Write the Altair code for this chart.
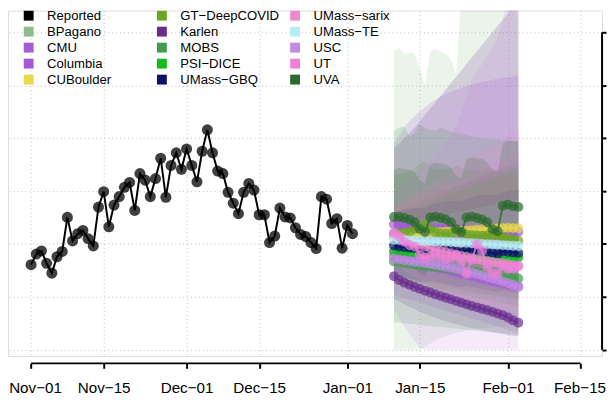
import altair as alt
import pandas as pd

# ---------------- data ----------------
tick_days = [0, 14, 30, 44, 61, 75, 92, 106]          # days after Nov-01
tick_labels = ["Nov−01", "Nov−15", "Dec−01", "Dec−15", "Jan−01", "Jan−15", "Feb−01", "Feb−15"]
y_ticks = [0, 500, 1000, 1500, 2000, 2500, 3000]

reported = [804, 904, 934, 817, 724, 879, 929, 1251, 1028, 1097, 1127, 1050, 981,
            1348, 1494, 1162, 1367, 1447, 1535, 1581, 1317, 1665, 1603, 1447, 1618,
            1810, 1441, 1742, 1861, 1705, 1898, 1742, 1587, 1876, 2078, 1861, 1689,
            1665, 1488, 1385, 1286, 1488, 1572, 1509, 1276, 1276, 1013, 1074, 1339,
            1255, 1246, 1153, 1090, 1069, 1013, 957, 1447, 1423, 1193, 1239, 960,
            1174, 1097]
forecast_start = 70   # first forecast day (Jan-10)

models = ["BPagano", "CMU", "Columbia", "CUBoulder", "GT−DeepCOVID", "Karlen", "MOBS",
          "PSI−DICE", "UMass−GBQ", "UMass−sarix", "UMass−TE", "USC", "UT", "UVA"]

colors = {
    "Reported": "#000000", "BPagano": "#8FBC8F", "CMU": "#A55AD7", "Columbia": "#A659D5",
    "CUBoulder": "#E6D94A", "GT−DeepCOVID": "#6BA523", "Karlen": "#6A2D8F", "MOBS": "#419D4F",
    "PSI−DICE": "#12BB1E", "UMass−GBQ": "#0C116C", "UMass−sarix": "#EE8ACB",
    "UMass−TE": "#B7EDF5", "USC": "#C18AE3", "UT": "#EE80D8", "UVA": "#2B6A2E",
}

legend_order = ["Reported"] + models   # legend fills column by column

median = {
    "BPagano": [930, 935, 925, 920, 915, 905, 900, 920, 925, 915, 910, 905, 895, 890, 905, 910, 900, 895, 890, 880, 875, 890, 895, 885, 880],
    "CMU": [1185, 1175, 1170, 1165, 1160, 1155, 1150, 1150, 1148, 1145, 1142, 1140, 1138, 1136, 1134, 1132, 1130, 1128, 1126, 1125, 1123, 1121, 1120, 1118, 1116],
    "Columbia": [885, 870, 858, 846, 834, 822, 810, 797, 784, 771, 758, 745, 732, 720, 708, 696, 684, 672, 660, 649, 638, 627, 616, 606, 598],
    "CUBoulder": [1080, 1085, 1090, 1095, 1098, 1102, 1105, 1108, 1110, 1113, 1116, 1119, 1122, 1125, 1128, 1131, 1134, 1137, 1140, 1143, 1146, 1149, 1152, 1150, 1148],
    "GT−DeepCOVID": [1095, 1100, 1105, 1115, 1140, 1170, 1185, 1140, 1110, 1100, 1095, 1100, 1120, 1110, 1090, 1085, 1080, 1078, 1080, 1085, 1075, 1065, 1055, 1045, 1030],
    "Karlen": [694, 659, 634, 613, 594, 575, 557, 541, 523, 507, 491, 476, 460, 445, 429, 414, 401, 386, 373, 358, 342, 327, 305, 277, 255],
    "MOBS": [835, 828, 820, 812, 806, 800, 793, 787, 781, 775, 769, 763, 757, 751, 745, 739, 733, 727, 721, 715, 708, 700, 692, 683, 674],
    "PSI−DICE": [930, 928, 925, 922, 920, 918, 915, 913, 910, 908, 905, 903, 900, 898, 895, 893, 890, 888, 885, 883, 880, 878, 876, 874, 872],
    "UMass−GBQ": [985, 975, 970, 965, 960, 945, 935, 960, 955, 950, 945, 940, 928, 920, 945, 940, 935, 930, 925, 915, 908, 930, 925, 920, 915],
    "UMass−sarix": [1085, 1070, 1050, 1030, 1012, 995, 978, 962, 948, 935, 922, 910, 898, 887, 876, 866, 856, 847, 838, 830, 822, 815, 808, 800, 793],
    "UMass−TE": [1040, 1038, 1036, 1034, 1032, 1030, 1028, 1026, 1024, 1022, 1020, 1018, 1016, 1013, 1010, 1007, 1004, 1001, 998, 995, 992, 989, 986, 983, 980],
    "USC": [860, 852, 845, 838, 832, 826, 820, 812, 803, 794, 784, 774, 763, 752, 741, 730, 716, 702, 688, 674, 660, 645, 630, 612, 595],
    "UT": [1106, 1070, 1020, 990, 975, 900, 870, 880, 905, 880, 857, 870, 888, 840, 717, 850, 997, 934, 783, 720, 717, 795, 764, 770, 789],
    "UVA": [1255, 1255, 1245, 1230, 1205, 1140, 1112, 1250, 1258, 1245, 1232, 1205, 1140, 1112, 1250, 1258, 1245, 1232, 1205, 1140, 1120, 1360, 1372, 1355, 1350],
}

upper = {
    "BPagano": [2830, 2850, 2800, 2810, 2800, 2650, 2490, 2820, 2850, 2820, 2800, 2740, 2600, 3350, 3450, 3550, 3600, 3650, 3700, 3190, 3750, 3800, 3850, 3900, 3950],
    "CMU": [1950, 2030, 2100, 2160, 2210, 2255, 2295, 2330, 2362, 2390, 2415, 2437, 2457, 2475, 2491, 2505, 2518, 2530, 2541, 2551, 2560, 2568, 2575, 2582, 2588],
    "Columbia": [1300, 1320, 1340, 1360, 1380, 1400, 1420, 1440, 1460, 1480, 1500, 1520, 1540, 1560, 1580, 1600, 1620, 1640, 1660, 1680, 1700, 1720, 1740, 1760, 1780],
    "CUBoulder": [1400, 1410, 1420, 1430, 1440, 1450, 1460, 1470, 1480, 1490, 1500, 1510, 1520, 1530, 1540, 1550, 1560, 1570, 1580, 1590, 1600, 1610, 1620, 1630, 1640],
    "GT−DeepCOVID": [1650, 1660, 1670, 1690, 1720, 1760, 1780, 1730, 1700, 1700, 1700, 1710, 1740, 1720, 1700, 1695, 1690, 1690, 1700, 1710, 1690, 1680, 1670, 1660, 1650],
    "Karlen": [1900, 1950, 2000, 2050, 2100, 2160, 2220, 2280, 2340, 2400, 2460, 2520, 2580, 2640, 2700, 2760, 2820, 2880, 2940, 3000, 3060, 3120, 3180, 3240, 3300],
    "MOBS": [2070, 2100, 2110, 2020, 2050, 2130, 2090, 2080, 2070, 2100, 2080, 2060, 2050, 2040, 2030, 2020, 2010, 2000, 2000, 1990, 1990, 1980, 1980, 1970, 1970],
    "PSI−DICE": [1250, 1270, 1290, 1310, 1330, 1350, 1370, 1390, 1410, 1430, 1450, 1470, 1490, 1510, 1530, 1550, 1570, 1590, 1610, 1630, 1650, 1670, 1690, 1710, 1730],
    "UMass−GBQ": [1300, 1310, 1320, 1330, 1340, 1340, 1340, 1370, 1380, 1390, 1400, 1405, 1400, 1400, 1430, 1440, 1450, 1460, 1465, 1460, 1460, 1490, 1500, 1510, 1520],
    "UMass−sarix": [1350, 1390, 1420, 1450, 1480, 1510, 1540, 1570, 1600, 1630, 1660, 1690, 1720, 1750, 1780, 1810, 1840, 1870, 1900, 1930, 1960, 1990, 2020, 2050, 2080],
    "UMass−TE": [1180, 1190, 1200, 1210, 1220, 1230, 1240, 1250, 1260, 1270, 1280, 1290, 1300, 1310, 1320, 1330, 1340, 1350, 1360, 1370, 1380, 1390, 1400, 1410, 1420],
    "USC": [1500, 1540, 1580, 1620, 1660, 1700, 1750, 1800, 1850, 1900, 1960, 2020, 2120, 2250, 2400, 2550, 2620, 2700, 2780, 2850, 2950, 3100, 3400, 3250, 3100],
    "UT": [1350, 1380, 1400, 1420, 1440, 1460, 1480, 1500, 1520, 1540, 1560, 1580, 1600, 1620, 1640, 1660, 1700, 1720, 1740, 1760, 1780, 1800, 1820, 1840, 1860],
    "UVA": [1700, 1720, 1710, 1700, 1680, 1600, 1570, 1750, 1770, 1760, 1750, 1720, 1650, 1620, 1800, 1820, 1810, 1800, 1770, 1700, 1680, 1950, 1980, 1970, 1970],
}

lower = {
    "BPagano": [0, 0, 0, 0, 0, 0, 30, 60, 90, 110, 130, 150, 160, 170, 180, 190, 200, 200, 210, 210, 220, 220, 230, 230, 240],
    "CMU": [700, 690, 680, 670, 660, 650, 640, 630, 620, 610, 600, 590, 580, 570, 560, 550, 540, 530, 520, 510, 500, 490, 480, 470, 460],
    "Columbia": [520, 505, 490, 475, 460, 445, 430, 415, 400, 385, 370, 355, 340, 325, 310, 295, 280, 265, 250, 235, 220, 205, 190, 175, 160],
    "CUBoulder": [800, 795, 790, 785, 780, 775, 770, 765, 760, 755, 750, 745, 740, 735, 730, 725, 720, 715, 710, 705, 700, 695, 690, 685, 680],
    "GT−DeepCOVID": [620, 615, 610, 600, 610, 630, 640, 600, 580, 570, 565, 560, 575, 560, 545, 540, 535, 530, 530, 535, 520, 510, 500, 490, 480],
    "Karlen": [480, 455, 430, 405, 382, 360, 340, 320, 302, 285, 270, 255, 241, 228, 216, 205, 194, 184, 174, 165, 156, 148, 140, 133, 126],
    "MOBS": [260, 255, 250, 245, 240, 235, 230, 225, 220, 215, 210, 205, 200, 195, 190, 185, 180, 175, 170, 165, 160, 155, 150, 145, 140],
    "PSI−DICE": [650, 640, 630, 620, 610, 600, 590, 580, 570, 560, 550, 540, 530, 520, 510, 500, 490, 480, 470, 460, 450, 440, 430, 420, 410],
    "UMass−GBQ": [700, 690, 680, 670, 660, 645, 635, 650, 640, 630, 620, 610, 598, 590, 605, 595, 585, 575, 565, 555, 545, 560, 550, 540, 530],
    "UMass−sarix": [820, 780, 745, 712, 682, 655, 630, 607, 586, 566, 548, 531, 515, 500, 486, 473, 461, 450, 440, 430, 421, 413, 405, 398, 391],
    "UMass−TE": [900, 880, 860, 840, 820, 800, 785, 770, 755, 740, 725, 712, 700, 688, 676, 664, 652, 640, 630, 620, 610, 600, 590, 580, 570],
    "USC": [380, 300, 220, 150, 80, 20, 0, 0, 0, 0, 0, 0, 0, 0, 0, 0, 0, 0, 0, 0, 0, 0, 0, 0, 0],
    "UT": [700, 680, 660, 640, 620, 600, 580, 560, 540, 520, 500, 480, 460, 440, 420, 400, 380, 360, 340, 320, 300, 280, 260, 240, 220],
    "UVA": [820, 810, 800, 790, 770, 720, 700, 790, 790, 780, 770, 750, 700, 680, 770, 770, 760, 750, 730, 680, 660, 800, 800, 790, 780],
}

# ---------------- tables ----------------
rep_df = pd.DataFrame({"d": list(range(len(reported))), "value": reported, "model": "Reported"})
model_dfs = {}
for m in models:
    n = len(median[m])
    model_dfs[m] = pd.DataFrame({
        "d": [forecast_start + i for i in range(n)],
        "value": median[m], "lo": lower[m], "hi": upper[m], "model": m,
    })

# ---------------- scales / axes ----------------
W, H = 602, 350
FONT = "Liberation Sans"
xscale = alt.Scale(domain=[-4.455, 110.15], nice=False, zero=False)
yscale = alt.Scale(domain=[-58.8, 3205.3], nice=False, zero=False)

label_expr = ("[" + ",".join("'" + s + "'" for s in tick_labels) + "][indexof(["
              + ",".join(str(v) for v in tick_days) + "], datum.value)]")

xaxis = alt.Axis(values=tick_days, labelExpr=label_expr, title=None, grid=True,
                 gridColor="#bdbdbd", gridDash=[1, 3], gridWidth=1, domain=False,
                 ticks=True, tickSize=5, tickWidth=2, tickColor="black",
                 labelFontSize=15.4, labelColor="black", labelPadding=13, offset=7.5,
                 labelFlush=False, labelOverlap=False, labelFont=FONT,
                 labelOffset={"condition": [{"test": "datum.value == 0", "value": 4},
                                            {"test": "datum.value == 106", "value": -1}],
                              "value": 0})
yaxis = alt.Axis(values=y_ticks, orient="right", title=None, labels=False, grid=True,
                 gridColor="#bdbdbd", gridDash=[1, 3], gridWidth=1, domain=False,
                 ticks=True, tickSize=4, tickWidth=2, tickColor="black")

legend = alt.Legend(title=None, orient="none", legendX=14.3, legendY=-1.5, columns=3,
                    symbolType="square", symbolSize=100, symbolStrokeWidth=0,
                    symbolOpacity=1, labelFont=FONT, labelFontSize=13.3,
                    labelColor="black", labelOffset=12, columnPadding=9, rowPadding=2.2,
                    gridAlign="all", padding=0)
color_enc = alt.Color("model:N",
                      scale=alt.Scale(domain=legend_order, range=[colors[k] for k in legend_order]),
                      legend=legend)

X = alt.X("d:Q", scale=xscale, axis=xaxis)

layers = []
# forecast bands
for m in models:
    layers.append(
        alt.Chart(model_dfs[m]).mark_area(opacity=0.18, clip=True).encode(
            x=X, y=alt.Y("lo:Q", scale=yscale, axis=yaxis), y2="hi:Q", color=color_enc)
    )
# reported
layers.append(alt.Chart(rep_df).mark_line(strokeWidth=2, clip=True).encode(
    x=X, y=alt.Y("value:Q", scale=yscale, axis=yaxis), color=color_enc))
layers.append(alt.Chart(rep_df).mark_circle(size=125, opacity=0.75, clip=True).encode(
    x=X, y=alt.Y("value:Q", scale=yscale, axis=yaxis), color=color_enc))
# forecast medians
for m in models:
    layers.append(alt.Chart(model_dfs[m]).mark_line(strokeWidth=2, opacity=0.8, clip=True).encode(
        x=X, y=alt.Y("value:Q", scale=yscale, axis=yaxis), color=color_enc))
    layers.append(alt.Chart(model_dfs[m]).mark_circle(size=100, opacity=0.7, clip=True).encode(
        x=X, y=alt.Y("value:Q", scale=yscale, axis=yaxis), color=color_enc))

# axis lines spanning first to last tick (R style)
xline = pd.DataFrame({"a": [tick_days[0]], "b": [tick_days[-1]]})
yline = pd.DataFrame({"a": [y_ticks[0]], "b": [y_ticks[-1]]})
layers.append(alt.Chart(xline).mark_rule(color="black", strokeWidth=2).encode(
    x=alt.X("a:Q", scale=xscale, axis=xaxis), x2="b:Q", y=alt.value(H + 7.5)))
layers.append(alt.Chart(yline).mark_rule(color="black", strokeWidth=2).encode(
    y=alt.Y("a:Q", scale=yscale, axis=yaxis), y2="b:Q", x=alt.value(W)))

chart = alt.layer(*layers).properties(
    width=W, height=H,
    padding={"left": 0, "top": 0, "right": 5, "bottom": 42},
    autosize=alt.AutoSizeParams(type="none"),
).configure_view(strokeWidth=0).configure(font=FONT)

chart.save("out.html", embed_options={"renderer": "svg", "actions": False})
